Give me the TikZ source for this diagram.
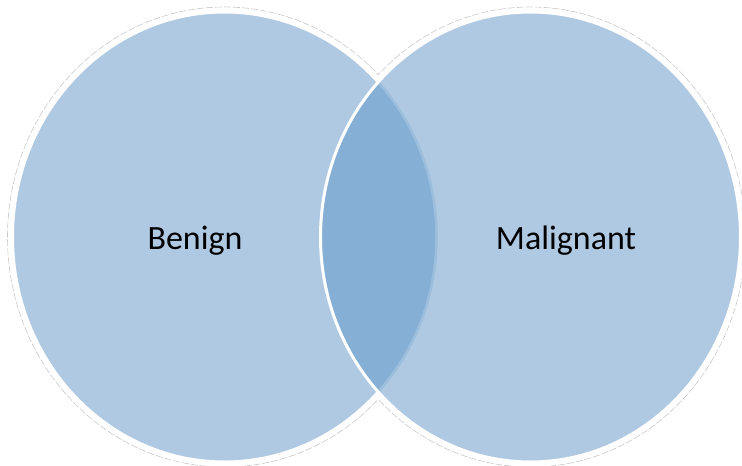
\documentclass[tikz,border=0pt]{standalone}
\usepackage{fontspec}
\setmainfont{Carlito}
\definecolor{vfill}{HTML}{B0C9E2}
\definecolor{vlens}{HTML}{86AFD5}
\definecolor{vedge}{HTML}{9CBEDD}
\tikzset{lbl/.style={font=\fontsize{34}{40}\selectfont, text=black, inner sep=0pt}}
\begin{document}
\begin{tikzpicture}[x=1pt,y=-1pt]
\useasboundingbox (0,0) rectangle (742,466);
\def\LC{(224.5,237)}
\def\RC{(530.5,237)}
% faint outer outline
\draw[gray!45, line width=0.6pt, dash pattern=on 7pt off 2pt] \LC ellipse [x radius=217, y radius=230];
\draw[gray!45, line width=0.6pt, dash pattern=on 7pt off 2pt] \RC ellipse [x radius=215, y radius=230];
\fill[white] \LC ellipse [x radius=216.3, y radius=229.3];
\fill[white] \RC ellipse [x radius=214.3, y radius=229.3];
% left
\fill[vfill] \LC ellipse [x radius=212, y radius=225];
\draw[white, line width=3pt] \LC ellipse [x radius=212, y radius=225];
% right
\fill[vfill] \RC ellipse [x radius=210, y radius=225];
% lens
\begin{scope}
\clip \LC ellipse [x radius=212, y radius=225];
\fill[vlens] \RC ellipse [x radius=210, y radius=225];
\end{scope}
\begin{scope}
\clip \RC ellipse [x radius=210, y radius=225];
\draw[vedge, line width=2.5pt] \LC ellipse [x radius=212, y radius=225];
\end{scope}
\draw[white, line width=3pt] \RC ellipse [x radius=210, y radius=225];
\node[lbl] (benign) at (195,241) {Benign};
\node[lbl] (malignant) at (566,241) {Malignant};
\end{tikzpicture}
\end{document}
